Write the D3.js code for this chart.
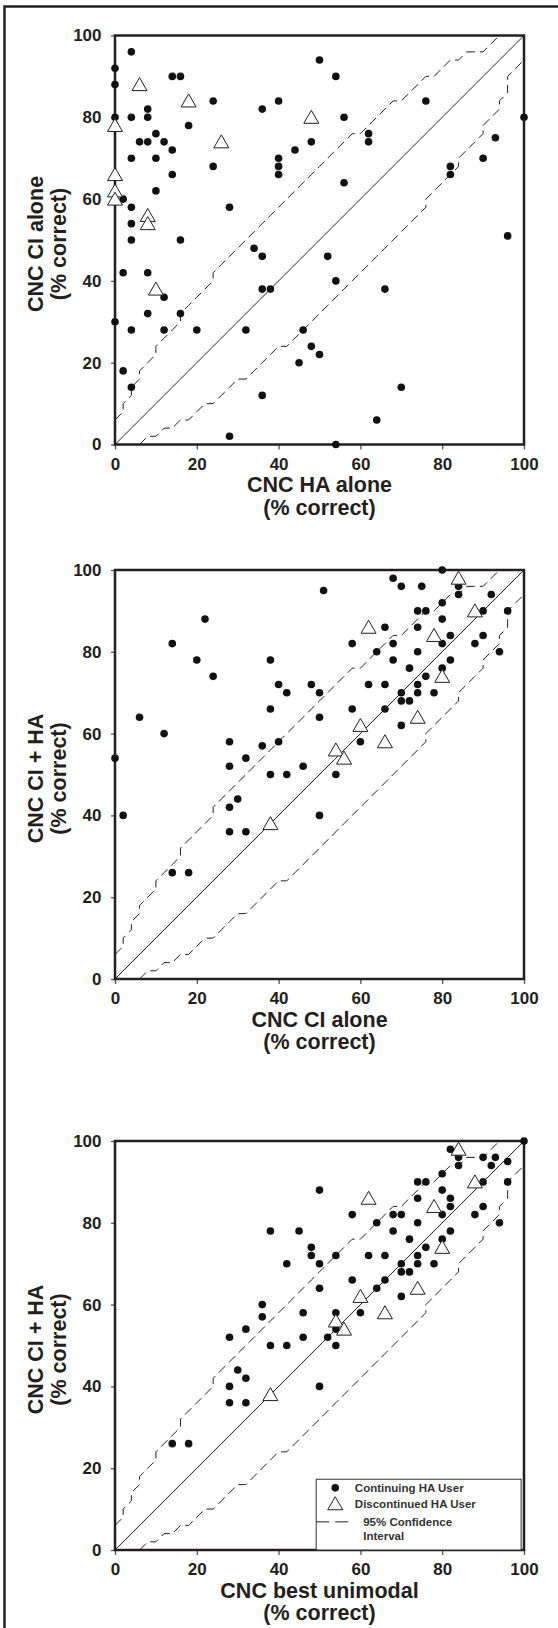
<!DOCTYPE html>
<html lang="en">
<head>
<meta charset="UTF-8">
<title>CNC scores</title>
<style>
  body { margin: 0; background: #fff; }
  svg text { font-family: "Liberation Sans", Arial, sans-serif; font-weight: bold; fill: #231f20; }
  .tick line { stroke: #555; stroke-width: 1.3; }
  .tick text { font-size: 17px; }
  .ttl { font-size: 21.5px; }
  .leg { font-size: 11.5px; fill: #333; }
</style>
</head>
<body>
<div id="chart"></div>
<script src="https://cdn.jsdelivr.net/npm/d3@7"></script>
<script>
// tick labels, both axes
var ticks = [0, 20, 40, 60, 80, 100];

// 95% confidence interval (same in every panel)
var ciUpper = [[0,6],[2,8],[2,10],[4,12],[4,14],[6,16],[6,18],[8,20],[10,22],[10,24],[12,26],[14,28],
  [16,30],[16,32],[18,34],[20,36],[22,38],[24,40],[24,42],[26,44],[28,46],[30,48],[32,50],[34,52],
  [36,54],[38,56],[40,58],[42,60],[44,62],[46,64],[48,66],[50,68],[52,70],[54,72],[56,74],[58,76],
  [60,76],[62,78],[64,80],[66,82],[68,84],[70,84],[72,86],[74,88],[76,90],[78,90],[80,92],[82,94],
  [84,94],[86,96],[88,96],[90,96],[92,98],[94,100]];
var ciLower = [[6,0],[8,2],[10,2],[12,4],[14,4],[16,6],[18,6],[20,8],[22,10],[24,10],[26,12],[28,14],
  [30,16],[32,16],[34,18],[36,20],[38,22],[40,24],[42,24],[44,26],[46,28],[48,30],[50,32],[52,34],
  [54,36],[56,38],[58,40],[60,42],[62,44],[64,46],[66,48],[68,50],[70,52],[72,54],[74,56],[76,58],
  [76,60],[78,62],[80,64],[82,66],[84,68],[84,70],[86,72],[88,74],[90,76],[90,78],[92,80],[94,82],
  [94,84],[96,86],[96,88],[96,90],[98,92],[100,94]];

// panel 1: HA alone (x) vs CI alone (y)
var p1Cont = [[0,92],[0,88],[0,80],[4,96],[4,80],[4,70],[2,60],[4,58],[4,54],[4,50],[2,42],[6,74],
  [8,74],[8,82],[8,80],[10,76],[10,70],[10,62],[12,74],[14,72],[14,66],[14,90],[16,90],[16,50],
  [18,78],[24,84],[24,68],[28,58],[8,42],[36,82],[40,84],[40,70],[40,68],[40,66],[44,72],[48,74],
  [50,94],[54,90],[56,80],[56,64],[62,76],[62,74],[76,84],[100,80],[82,68],[82,66],[90,70],[93,75],
  [96,51],[34,48],[36,46],[52,46],[54,40],[36,38],[38,38],[66,38],[12,36],[0,30],[4,28],[8,32],
  [12,28],[16,32],[20,28],[2,18],[4,14],[32,28],[46,28],[48,24],[50,22],[45,20],[36,12],[28,2],
  [54,0],[64,6],[70,14]];
var p1Disc = [[0,78],[0,66],[0,62],[0,60],[6,88],[18,84],[26,74],[48,80],[8,56],[8,54],[10,38]];

// panel 2: CI alone (x) vs CI + HA (y)
var p2Cont = [[80,100],[68,98],[70,96],[75,96],[84,96],[84,94],[80,92],[74,90],[76,90],[92,94],
  [90,90],[96,90],[51,95],[22,88],[14,82],[20,78],[24,74],[6,64],[12,60],[0,54],[2,40],[38,78],
  [38,66],[40,72],[42,70],[48,72],[50,70],[50,64],[28,58],[28,52],[32,54],[36,57],[40,58],[38,50],
  [42,50],[46,52],[54,50],[58,82],[58,66],[60,58],[62,72],[64,80],[66,86],[68,82],[68,78],[66,72],
  [66,66],[70,70],[70,68],[70,62],[72,76],[72,68],[74,86],[74,80],[74,72],[74,70],[76,74],[78,70],
  [80,88],[80,82],[80,76],[82,84],[82,78],[88,82],[90,84],[94,80],[50,40],[28,42],[30,44],[28,36],
  [32,36],[14,26],[18,26]];
var p2Disc = [[84,98],[88,90],[62,86],[78,84],[80,74],[74,64],[60,62],[66,58],[54,56],[56,54],[38,38]];

// panel 3: best unimodal (x) vs CI + HA (y)
var p3Cont = [[100,100],[82,98],[84,96],[84,94],[90,96],[92,94],[93,96],[96,95],[96,90],[90,90],
  [90,84],[88,82],[94,80],[80,92],[74,90],[76,90],[80,88],[82,86],[82,84],[74,86],[68,82],[70,82],
  [64,80],[74,80],[80,82],[68,78],[82,78],[80,76],[72,76],[76,74],[74,72],[74,70],[78,70],[70,70],
  [70,68],[72,68],[66,66],[64,64],[70,62],[62,72],[66,72],[58,66],[60,58],[54,58],[54,54],[52,52],
  [54,50],[58,82],[54,72],[50,88],[50,70],[50,64],[48,74],[48,72],[45,78],[38,78],[42,70],[36,60],
  [36,57],[32,54],[28,52],[38,50],[42,50],[46,58],[46,52],[28,40],[30,44],[32,42],[28,36],[32,36],
  [50,40],[14,26],[18,26]];
var p3Disc = [[84,98],[88,90],[62,86],[78,84],[80,74],[74,64],[60,62],[66,58],[54,56],[56,54],[38,38]];

var xTitles = ["CNC HA alone", "CNC CI alone", "CNC best unimodal"];
var yTitles = ["CNC CI alone", "CNC CI + HA", "CNC CI + HA"];
var subTitle = "(% correct)";
var legendLabels = ["Continuing HA User", "Discontinued HA User", "95% Confidence", "Interval"];

var W = 558, H = 1628;
var size = 409, left = 115;
var ink = "#231f20";

var svg = d3.select("#chart").append("svg")
    .attr("width", W)
    .attr("height", H);

// outer frame, right and bottom edges are cut off in the original
svg.append("rect")
    .attr("x", 4.5).attr("y", 6.5)
    .attr("width", 700).attr("height", 1800)
    .attr("fill", "none")
    .attr("stroke", ink)
    .attr("stroke-width", 2.5);

var x = d3.scaleLinear().domain([0, 100]).range([0, size]);
var y = d3.scaleLinear().domain([0, 100]).range([size, 0]);
var line = d3.line().x(function (d) { return x(d[0]); }).y(function (d) { return y(d[1]); });
var triPath = "M0,-7L7.5,6L-7.5,6Z";

function drawPanel(top, cont, disc, xTitle, yTitle) {
    var g = svg.append("g").attr("transform", "translate(" + left + "," + top + ")");

    g.append("path").datum([[0, 0], [100, 100]])
        .attr("d", line).attr("fill", "none").attr("stroke", ink).attr("stroke-width", 1);

    [ciUpper, ciLower].forEach(function (ci) {
        g.append("path").datum(ci)
            .attr("d", line)
            .attr("fill", "none")
            .attr("stroke", ink)
            .attr("stroke-width", 1)
            .attr("stroke-dasharray", "9,5");
    });

    g.append("g")
        .attr("transform", "translate(0," + size + ")")
        .call(d3.axisBottom(x).tickValues(ticks).tickSize(5).tickPadding(8).tickSizeOuter(0))
        .call(function (a) { a.select(".domain").remove(); });

    g.append("g")
        .call(d3.axisLeft(y).tickValues(ticks).tickSize(4).tickPadding(9.5).tickSizeOuter(0))
        .call(function (a) { a.select(".domain").remove(); });

    g.append("rect")
        .attr("width", size).attr("height", size)
        .attr("fill", "none")
        .attr("stroke", ink)
        .attr("stroke-width", 2.5);

    g.selectAll(".dot").data(cont).enter().append("circle")
        .attr("class", "dot")
        .attr("cx", function (d) { return x(d[0]); })
        .attr("cy", function (d) { return y(d[1]); })
        .attr("r", 3.8)
        .attr("fill", "#111");

    g.selectAll(".tri").data(disc).enter().append("path")
        .attr("class", "tri")
        .attr("d", triPath)
        .attr("transform", function (d) { return "translate(" + x(d[0]) + "," + y(d[1]) + ")"; })
        .attr("fill", "#fff")
        .attr("stroke", ink)
        .attr("stroke-width", 1);

    // axis titles
    g.append("text").attr("class", "ttl")
        .attr("x", size / 2).attr("y", size + 47.5)
        .attr("text-anchor", "middle").text(xTitle);
    g.append("text").attr("class", "ttl")
        .attr("x", size / 2).attr("y", size + 70)
        .attr("text-anchor", "middle").text(subTitle);

    g.append("text").attr("class", "ttl")
        .attr("transform", "translate(" + (42.5 - left) + "," + (size / 2 + 4) + ") rotate(-90)")
        .attr("text-anchor", "middle").text(yTitle);
    g.append("text").attr("class", "ttl")
        .attr("transform", "translate(" + (66 - left) + "," + (size / 2 + 4) + ") rotate(-90)")
        .attr("text-anchor", "middle").text(subTitle);

    return g;
}

drawPanel(35.5, p1Cont, p1Disc, xTitles[0], yTitles[0]);
drawPanel(570, p2Cont, p2Disc, xTitles[1], yTitles[1]);
var g3 = drawPanel(1141, p3Cont, p3Disc, xTitles[2], yTitles[2]);

// legend, bottom right of the last panel
var lx = x(49.2), ly = y(17.3);
var leg = g3.append("g").attr("transform", "translate(" + lx + "," + ly + ")");
leg.append("rect")
    .attr("width", x(99.3) - lx).attr("height", size - ly)
    .attr("fill", "#fff")
    .attr("stroke", "#333")
    .attr("stroke-width", 1);
leg.append("circle").attr("cx", 19).attr("cy", 8.6).attr("r", 3.8).attr("fill", "#111");
leg.append("path").attr("d", triPath)
    .attr("transform", "translate(19,24.5)")
    .attr("fill", "#fff").attr("stroke", ink).attr("stroke-width", 1);
leg.append("line")
    .attr("x1", 0).attr("x2", 34).attr("y1", 42.6).attr("y2", 42.6)
    .attr("stroke", ink).attr("stroke-width", 1).attr("stroke-dasharray", "13,6");
leg.append("text").attr("class", "leg").attr("x", 38.6).attr("y", 12.5).text(legendLabels[0]);
leg.append("text").attr("class", "leg").attr("x", 38.6).attr("y", 28.5).text(legendLabels[1]);
leg.append("text").attr("class", "leg").attr("x", 47).attr("y", 46.5).text(legendLabels[2]);
leg.append("text").attr("class", "leg").attr("x", 47).attr("y", 61).text(legendLabels[3]);
</script>
</body>
</html>
